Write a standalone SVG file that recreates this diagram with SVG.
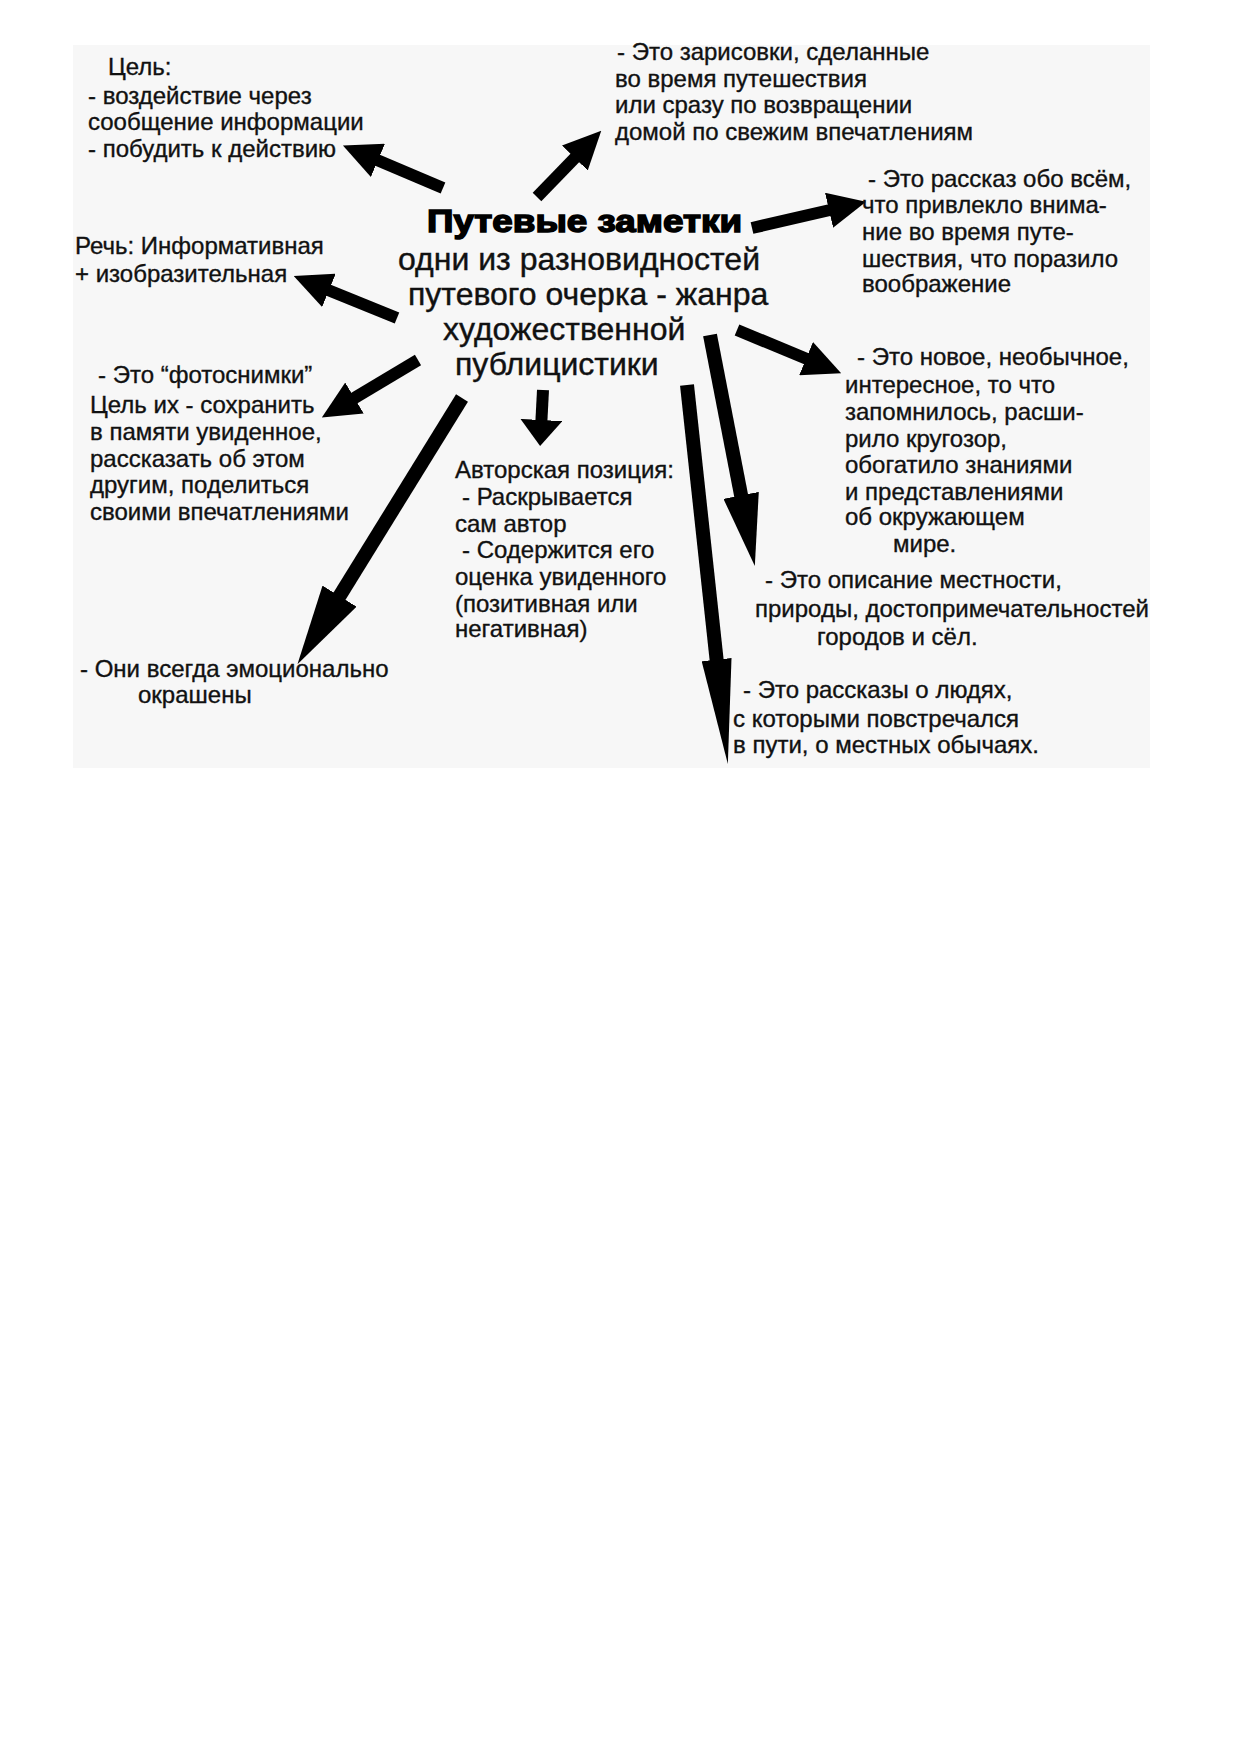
<svg xmlns="http://www.w3.org/2000/svg" width="1240" height="1754" viewBox="0 0 1240 1754">
<style>
  .t { font-family: "Liberation Sans", Arial, sans-serif; font-size: 24px; fill: #111; stroke: #111; stroke-width: 0.35; }
  .c { font-family: "Liberation Sans", Arial, sans-serif; font-size: 32px; fill: #111; stroke: #111; stroke-width: 0.4; }
  .title { font-family: "Liberation Sans", Arial, sans-serif; font-size: 32px; font-weight: bold; fill: #000; stroke: #000; stroke-width: 1.5; }
  .a { stroke: #000; stroke-width: 12; fill: none; }
  .aw { stroke: #000; stroke-width: 14; fill: none; }
</style>
<defs>
  <marker id="h38" markerUnits="userSpaceOnUse" viewBox="0 0 38 36" markerWidth="38" markerHeight="36" refX="1" refY="18" orient="auto"><path d="M0,0 L38,18 L0,36 Z" fill="#000"/></marker>
  <marker id="h26" markerUnits="userSpaceOnUse" viewBox="0 0 26 42" markerWidth="26" markerHeight="42" refX="1" refY="21" orient="auto"><path d="M0,0 L26,21 L0,42 Z" fill="#000"/></marker>
  <marker id="h80" markerUnits="userSpaceOnUse" viewBox="0 0 80 40" markerWidth="80" markerHeight="40" refX="1" refY="20" orient="auto"><path d="M0,0 L80,20 L0,40 Z" fill="#000"/></marker>
  <marker id="h72" markerUnits="userSpaceOnUse" viewBox="0 0 72 36" markerWidth="72" markerHeight="36" refX="1" refY="18" orient="auto"><path d="M0,0 L72,18 L0,36 Z" fill="#000"/></marker>
  <marker id="h105" markerUnits="userSpaceOnUse" viewBox="0 0 105 30" markerWidth="105" markerHeight="30" refX="1" refY="15" orient="auto"><path d="M0,0 L105,15 L0,30 Z" fill="#000"/></marker>
</defs>
<rect x="0" y="0" width="1240" height="1754" fill="#ffffff"/>
<rect x="73" y="45" width="1077" height="723" fill="#f7f7f7"/>

<g id="connectors">
  <line class="a" x1="443" y1="188" x2="377" y2="160" marker-end="url(#h38)"/>
  <line class="a" x1="397" y1="318" x2="328" y2="290" marker-end="url(#h38)"/>
  <line class="a" x1="537" y1="197" x2="575.5" y2="157.3" marker-end="url(#h38)"/>
  <line class="a" x1="752" y1="228" x2="830" y2="210" marker-end="url(#h38)"/>
  <line class="a" x1="737" y1="330" x2="807" y2="359" marker-end="url(#h38)"/>
  <line class="a" x1="543" y1="390" x2="541.4" y2="421" marker-end="url(#h26)"/>
  <line class="a" x1="418" y1="360" x2="353.6" y2="398.5" marker-end="url(#h38)"/>
  <line class="aw" x1="462" y1="398" x2="339" y2="597" marker-end="url(#h80)"/>
  <line class="aw" x1="710" y1="335" x2="741.3" y2="496.3" marker-end="url(#h72)"/>
  <line class="aw" x1="687" y1="385" x2="716.7" y2="660.6" marker-end="url(#h105)"/>
</g>

<g id="center">
  <text class="title" x="427" y="232" textLength="315" lengthAdjust="spacingAndGlyphs">Путевые заметки</text>
  <text class="c" x="398" y="270">одни из разновидностей</text>
  <text class="c" x="408" y="305">путевого очерка - жанра</text>
  <text class="c" x="443" y="340">художественной</text>
  <text class="c" x="455" y="375">публицистики</text>
</g>

<g id="goal">
  <text class="t" x="108" y="75">Цель:</text>
  <text class="t" x="88" y="104">- воздействие через</text>
  <text class="t" x="88" y="130">сообщение информации</text>
  <text class="t" x="88" y="157">- побудить к действию</text>
</g>

<g id="speech">
  <text class="t" x="75" y="254">Речь: Информативная</text>
  <text class="t" x="75" y="282">+ изобразительная</text>
</g>

<g id="sketches">
  <text class="t" x="617" y="60">- Это зарисовки, сделанные</text>
  <text class="t" x="615" y="87">во время путешествия</text>
  <text class="t" x="615" y="113">или сразу по возвращении</text>
  <text class="t" x="615" y="140">домой по свежим впечатлениям</text>
</g>

<g id="story">
  <text class="t" x="868" y="187">- Это рассказ обо всём,</text>
  <text class="t" x="862" y="213">что привлекло внима-</text>
  <text class="t" x="862" y="240">ние во время путе-</text>
  <text class="t" x="862" y="267">шествия, что поразило</text>
  <text class="t" x="862" y="292">воображение</text>
</g>

<g id="new">
  <text class="t" x="857" y="365">- Это новое, необычное,</text>
  <text class="t" x="845" y="393">интересное, то что</text>
  <text class="t" x="845" y="420">запомнилось, расши-</text>
  <text class="t" x="845" y="447">рило кругозор,</text>
  <text class="t" x="845" y="473">обогатило знаниями</text>
  <text class="t" x="845" y="500">и представлениями</text>
  <text class="t" x="845" y="525">об окружающем</text>
  <text class="t" x="893" y="552">мире.</text>
</g>

<g id="description">
  <text class="t" x="765" y="588">- Это описание местности,</text>
  <text class="t" x="755" y="617">природы, достопримечательностей</text>
  <text class="t" x="817" y="645">городов и сёл.</text>
</g>

<g id="people">
  <text class="t" x="743" y="698">- Это рассказы о людях,</text>
  <text class="t" x="733" y="727">с которыми повстречался</text>
  <text class="t" x="733" y="753">в пути, о местных обычаях.</text>
</g>

<g id="author">
  <text class="t" x="455" y="478">Авторская позиция:</text>
  <text class="t" x="462" y="505">- Раскрывается</text>
  <text class="t" x="455" y="532">сам автор</text>
  <text class="t" x="462" y="558">- Содержится его</text>
  <text class="t" x="455" y="585">оценка увиденного</text>
  <text class="t" x="455" y="612">(позитивная или</text>
  <text class="t" x="455" y="637">негативная)</text>
</g>

<g id="photos">
  <text class="t" x="98" y="383">- Это “фотоснимки”</text>
  <text class="t" x="90" y="413">Цель их - сохранить</text>
  <text class="t" x="90" y="440">в памяти увиденное,</text>
  <text class="t" x="90" y="467">рассказать об этом</text>
  <text class="t" x="90" y="493">другим, поделиться</text>
  <text class="t" x="90" y="520">своими впечатлениями</text>
</g>

<g id="emotional">
  <text class="t" x="80" y="677">- Они всегда эмоционально</text>
  <text class="t" x="138" y="703">окрашены</text>
</g>
</svg>
